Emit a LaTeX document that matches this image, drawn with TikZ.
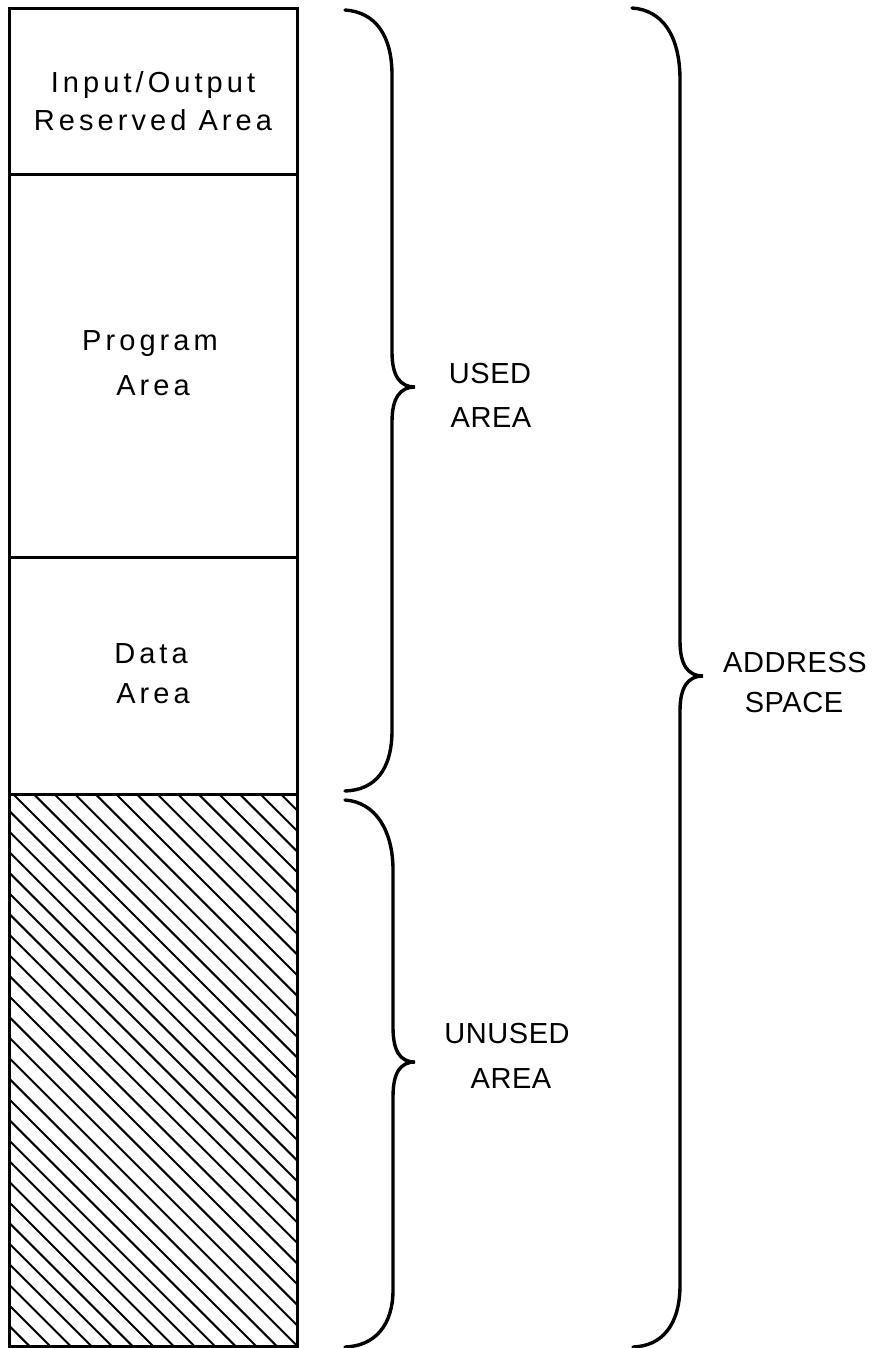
\documentclass[tikz,border=0pt]{standalone}
\usepackage{fontspec}
\setmainfont{Liberation Sans}
\newfontfamily\lblfont[LetterSpace=14]{Liberation Sans}
\newfontfamily\capfont[LetterSpace=2]{Liberation Sans}
\begin{document}
\begin{tikzpicture}[x=1pt,y=-1pt,
  outline/.style={line width=3pt},
  hatchline/.style={line width=2pt},
  bracepath/.style={line width=3.4pt,line cap=round},
  lbl/.style={anchor=base,inner sep=0pt,font=\lblfont\fontsize{29}{29}\selectfont},
  caplbl/.style={anchor=base,inner sep=0pt,font=\capfont\fontsize{29}{29}\selectfont}]
\useasboundingbox[fill=white] (0,0) rectangle (871,1348);
% hatching of the unused area
\begin{scope}
  \clip (9,794) rectangle (297,1346);
  \foreach \i in {0,...,45} {
    \draw[hatchline] ({-563.8+\i*20.6},794) -- ++(620,620);
  }
\end{scope}
% boxes
\draw[outline] (9,9) rectangle (297,1346);
\draw[outline] (9,175) -- (297,175);
\draw[outline] (9,557) -- (297,557);
\draw[outline] (9,794) -- (297,794);
% box labels
\node[lbl] (io1) at (153,93) {Input/Output};
\node[lbl] (io2) at (153,131) {Reserved Area};
\node[lbl] (pg1) at (150,350) {Program};
\node[lbl] (pg2) at (153,395) {Area};
\node[lbl] (da1) at (151,663) {Data};
\node[lbl] (da2) at (153,703) {Area};
% braces
\draw[bracepath] (345,10) .. controls (375,12) and (392,35) .. (392,75) -- (392,352)
  .. controls (392,376) and (400,387) .. (415,387)
  .. controls (400,387) and (392,398) .. (392,422) -- (392,730)
  .. controls (392,770) and (375,790) .. (345,791);
\draw[bracepath] (345,800) .. controls (375,802) and (393,830) .. (393,870) -- (393,1027)
  .. controls (393,1051) and (400,1062) .. (415,1062)
  .. controls (400,1062) and (393,1073) .. (393,1097) -- (393,1290)
  .. controls (393,1325) and (375,1346) .. (345,1347);
\draw[bracepath] (632,8) .. controls (662,10) and (680,35) .. (680,80) -- (680,641)
  .. controls (680,665) and (688,676) .. (703,676)
  .. controls (688,676) and (680,687) .. (680,711) -- (680,1285)
  .. controls (680,1325) and (662,1346) .. (633,1347);
% brace labels
\node[caplbl] (us1) at (490,383) {USED};
\node[caplbl] (us2) at (491,427) {AREA};
\node[caplbl] (un1) at (507,1043) {UNUSED};
\node[caplbl] (un2) at (511,1088) {AREA};
\node[caplbl] (ad1) at (795,672) {ADDRESS};
\node[caplbl] (ad2) at (794,712) {SPACE};
\end{tikzpicture}
\end{document}
